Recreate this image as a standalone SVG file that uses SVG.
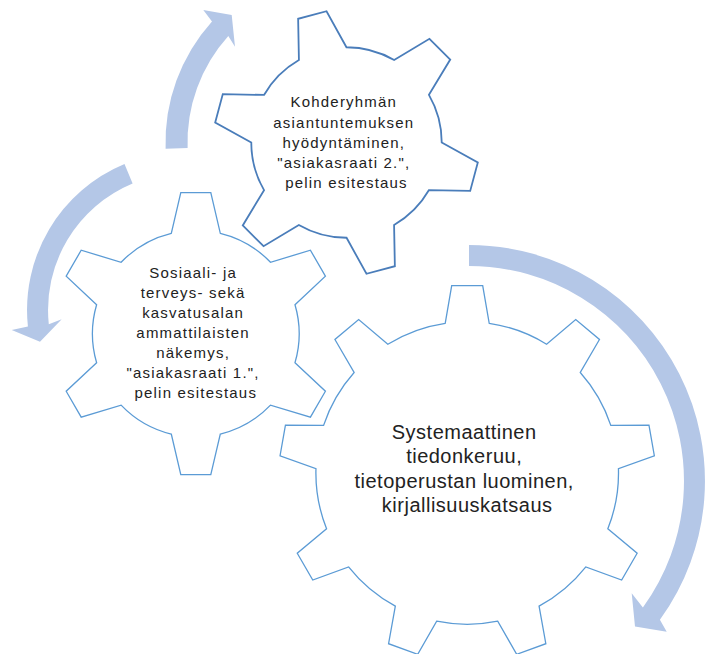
<svg xmlns="http://www.w3.org/2000/svg" width="709" height="654" viewBox="0 0 709 654">
  <style>
    .gear { fill: #ffffff; stroke: #5B9BD5; stroke-width: 1.3; stroke-linejoin: miter; }
    .gear-dark { stroke: #4A7DBA; stroke-width: 1.8; }
    .arrow { fill: #B4C7E7; stroke: none; }
    .lbl { font-family: "Liberation Sans", Arial, sans-serif; fill: #222222; text-anchor: middle; }
    .small { font-size: 15px; letter-spacing: 1.2px; }
    .large { font-size: 20px; letter-spacing: 0.5px; }
  </style>
  <rect x="0" y="0" width="709" height="654" fill="#ffffff"/>

  <g id="connectors">
    <path id="arrow-big" class="arrow" d="M469,245 A236,236 0 0 1 659.9,619.7 L666.7,631.7 L635,626.5 L631.7,593.3 L642.9,607.4 A215,215 0 0 0 469,266 Z"/>
    <path id="arrow-left" class="arrow" d="M124.5,164 A158,158 0 0 0 27.9,326.5 L11.7,330 L40,341.7 L61.7,319.3 L48.8,324.3 A137,137 0 0 1 132.6,183.4 Z"/>
    <path id="arrow-top" class="arrow" d="M165.6,148.8 A181,181 0 0 1 212,21.4 L203.3,10 L231.7,15 L235,46.7 L228.3,36.1 A159,159 0 0 0 187.6,148 Z"/>
  </g>

  <g id="gear-top">
    <path class="gear gear-dark" transform="translate(346.5,142.5) rotate(-15)" d="M-24.6,-92 L-14.7,-132 L14.7,-132 L24.6,-92 A95.23,95.23 0 0 1 67.37,-67.3 L106.97,-78.73 L121.67,-53.27 L91.97,-24.7 A95.23,95.23 0 0 1 91.97,24.7 L121.67,53.27 L106.97,78.73 L67.37,67.3 A95.23,95.23 0 0 1 24.6,92 L14.7,132 L-14.7,132 L-24.6,92 A95.23,95.23 0 0 1 -67.37,67.3 L-106.97,78.73 L-121.67,53.27 L-91.97,24.7 A95.23,95.23 0 0 1 -91.97,-24.7 L-121.67,-53.27 L-106.97,-78.73 L-67.37,-67.3 A95.23,95.23 0 0 1 -24.6,-92 Z"/>
    <text class="lbl small">
      <tspan x="346.5" y="107.3">Kohderyhmän</tspan>
      <tspan x="346.5" y="127.5">asiantuntemuksen</tspan>
      <tspan x="346.5" y="147.8">hyödyntäminen,</tspan>
      <tspan x="346.5" y="168">"asiakasraati 2.",</tspan>
      <tspan x="346.5" y="188.3">pelin esitestaus</tspan>
    </text>
  </g>

  <g id="gear-left">
    <path class="gear" d="M171.3,233.3 L180.8,192.7 L210.8,192.7 L220.3,233.3 A103.35,103.35 0 0 1 270.5,262.28 L310.41,250.21 L325.41,276.19 L295,304.72 A103.35,103.35 0 0 1 295,362.68 L325.41,391.21 L310.41,417.19 L270.5,405.12 A103.35,103.35 0 0 1 220.3,434.1 L210.8,474.7 L180.8,474.7 L171.3,434.1 A103.35,103.35 0 0 1 121.1,405.12 L81.19,417.19 L66.19,391.21 L96.6,362.68 A103.35,103.35 0 0 1 96.6,304.72 L66.19,276.19 L81.19,250.21 L121.1,262.28 A103.35,103.35 0 0 1 171.3,233.3 Z"/>
    <text class="lbl small">
      <tspan x="195.8" y="278.3">Sosiaali- ja</tspan>
      <tspan x="195.8" y="298.3">terveys- sekä</tspan>
      <tspan x="195.8" y="318.3">kasvatusalan</tspan>
      <tspan x="195.8" y="338.3">ammattilaisten</tspan>
      <tspan x="195.8" y="358.3">näkemys,</tspan>
      <tspan x="195.8" y="378.3">"asiakasraati 1.",</tspan>
      <tspan x="195.8" y="398.3">pelin esitestaus</tspan>
    </text>
  </g>

  <g id="gear-big">
    <path class="gear" d="M445.2,323.3 L451.7,285.7 L482.7,285.7 L489.2,323.3 A151.3,151.3 0 0 1 546.58,344.19 L575.73,319.57 L599.47,339.49 L580.28,372.47 A151.3,151.3 0 0 1 610.8,425.34 L648.96,425.22 L654.34,455.74 L618.44,468.68 A151.3,151.3 0 0 1 607.84,528.8 L637.15,553.23 L621.65,580.07 L585.84,566.9 A151.3,151.3 0 0 1 539.07,606.15 L545.83,643.71 L516.69,654.31 L497.73,621.19 A151.3,151.3 0 0 1 436.67,621.19 L417.71,654.31 L388.57,643.71 L395.33,606.15 A151.3,151.3 0 0 1 348.56,566.9 L312.75,580.07 L297.25,553.23 L326.56,528.8 A151.3,151.3 0 0 1 315.96,468.68 L280.06,455.74 L285.44,425.22 L323.6,425.34 A151.3,151.3 0 0 1 354.12,372.47 L334.93,339.49 L358.67,319.57 L387.82,344.19 A151.3,151.3 0 0 1 445.2,323.3 Z"/>
    <text class="lbl large">
      <tspan x="467.2" y="439.3">Systemaattinen</tspan>
      <tspan x="467.2" y="463.4">tiedonkeruu,</tspan>
      <tspan x="467.2" y="487.5">tietoperustan luominen,</tspan>
      <tspan x="467.2" y="511.6">kirjallisuuskatsaus</tspan>
    </text>
  </g>
</svg>
